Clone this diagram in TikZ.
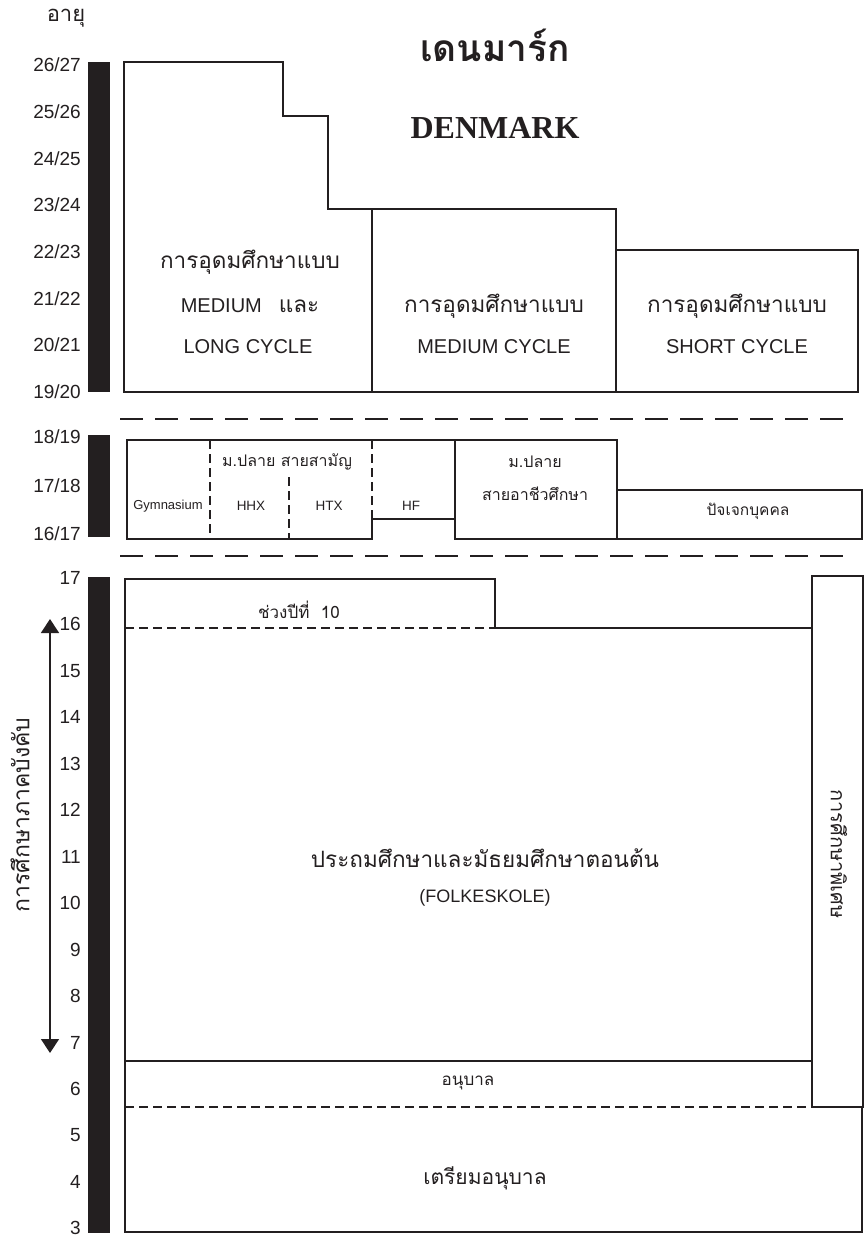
\documentclass[tikz,border=0pt]{standalone}
\usepackage{fontspec}
\setmainfont{Liberation Sans}
\newfontfamily\thai[Script=Thai]{Loma}
\newfontfamily\timesbf{Liberation Serif}
\usepackage{xcolor}
\definecolor{ink}{RGB}{35,31,32}
\usepackage{tikz}
\usetikzlibrary{arrows.meta, positioning}

\newcommand{\fs}[1]{\fontsize{#1}{#1}\selectfont}

\begin{document}
\begin{tikzpicture}[x=1pt, y=-1pt,
  box/.style={draw=ink, line width=1.6pt},
  sepline/.style={draw=ink, line width=2.2pt, dash pattern=on 23pt off 12pt},
  inner dash/.style={draw=ink, line width=1.4pt, dash pattern=on 9pt off 5pt},
  agelbl/.style={anchor=east, inner sep=0pt, font=\fs{19}, text=ink},
  thaitxt/.style={inner sep=0pt, text=ink, font=\thai\fs{#1}},
  latintxt/.style={inner sep=0pt, text=ink, font=\fs{#1}}]
  \useasboundingbox (0,0) rectangle (866,1238);

  % Header
  \node[thaitxt=22] (agehead) at (66,18) {อายุ};
  \node[inner sep=0pt, text=ink, font=\thai\bfseries\fs{37}] (titleth) at (495,45) {เดนมาร์ก};
  \node[inner sep=0pt, text=ink, font=\timesbf\bfseries\fs{32}] (titleen) at (495,128) {DENMARK};

  % Age bars
  \fill[ink] (88,62) rectangle (110,392);
  \fill[ink] (88,435) rectangle (110,537);
  \fill[ink] (88,577) rectangle (110,1233);

  % Age labels
  \foreach \a [count=\i from 0] in {26/27,25/26,24/25,23/24,22/23,21/22,20/21,19/20}
    \node[agelbl] (tert-\i) at (81,{65+46.7*\i}) {\a};
  \foreach \a [count=\i from 0] in {18/19,17/18,16/17}
    \node[agelbl] (upsec-\i) at (81,{437+48.5*\i}) {\a};
  \foreach \a [count=\i from 0] in {17,16,...,3}
    \node[agelbl] (comp-\a) at (81,{578+46.45*\i}) {\a};

  % Tertiary education
  \draw[box] (372,209) -- (328,209) -- (328,116) -- (283,116) -- (283,62) -- (124,62)
    -- (124,392) -- (858,392) -- (858,250) -- (616,250);
  \draw[box] (372,392) -- (372,209) -- (616,209) -- (616,392);
  \node[thaitxt=22.5] (longth) at (250,262) {การอุดมศึกษาแบบ};
  \node[latintxt=20] (longen) at (250,306) {MEDIUM\hspace{17pt}{\thai\fs{22.5}และ}};
  \node[latintxt=20] (longcy) at (248,347) {LONG CYCLE};
  \node[thaitxt=22.5] (medth) at (494,306) {การอุดมศึกษาแบบ};
  \node[latintxt=20] (medcy) at (494,347) {MEDIUM CYCLE};
  \node[thaitxt=22.5] (shortth) at (737,306) {การอุดมศึกษาแบบ};
  \node[latintxt=20] (shortcy) at (737,347) {SHORT CYCLE};

  % Separators
  \draw[sepline] (120,419) -- (855,419);
  \draw[sepline] (120,556) -- (855,556);

  % Upper secondary
  \draw[box] (127,440) -- (617,440) -- (617,539) -- (455,539) -- (455,519) -- (372,519)
    -- (372,539) -- (127,539) -- cycle;
  \draw[box] (455,440) -- (455,519);
  \draw[box] (617,490) -- (862,490) -- (862,539) -- (617,539);
  \draw[inner dash] (210,440) -- (210,539);
  \draw[inner dash] (289,477) -- (289,539);
  \draw[inner dash] (372,440) -- (372,519);
  \node[thaitxt=16] (genth) at (287,462) {ม.ปลาย สายสามัญ};
  \node[latintxt=13] (gym) at (168,506) {Gymnasium};
  \node[latintxt=13.5] (hhx) at (251,506) {HHX};
  \node[latintxt=13.5] (htx) at (329,506) {HTX};
  \node[latintxt=13.5] (hf) at (411,506) {HF};
  \node[thaitxt=16] (vocth) at (535,462) {ม.ปลาย};
  \node[thaitxt=16] (vocsub) at (535,494) {สายอาชีวศึกษา};
  \node[thaitxt=15.5] (indiv) at (748,511) {ปัจเจกบุคคล};

  % Compulsory education
  \draw[box] (125,1107) -- (125,579) -- (495,579) -- (495,628) -- (812,628);
  \draw[inner dash] (125,628) -- (495,628);
  \draw[box] (125,1061) -- (812,1061);
  \draw[inner dash] (125,1107) -- (812,1107);
  \draw[box] (812,576) rectangle (863,1107);
  \draw[box] (125,1107) -- (125,1232) -- (862,1232) -- (862,1107);
  \node[thaitxt=17] (yr10) at (299,610) {ช่วงปีที่~~10};
  \node[thaitxt=22.5] (folkth) at (485,858) {ประถมศึกษาและมัธยมศึกษาตอนต้น};
  \node[latintxt=18] (folken) at (485,898) {(FOLKESKOLE)};
  \node[thaitxt=17] (kinder) at (468,1083) {อนุบาล};
  \node[thaitxt=21] (prekind) at (485,1178) {เตรียมอนุบาล};
  \node[thaitxt=20, rotate=-90] (special) at (839,854) {การศึกษาพิเศษ};

  % Compulsory span arrow
  \coordinate (comptop) at (50,619);
  \coordinate (compbot) at (50,1053);
  \draw[ink, line width=1.4pt, {Triangle[width=18pt,length=14pt]}-{Triangle[width=18pt,length=14pt]}] (comptop) -- (compbot);
  \node[thaitxt=23, rotate=90] (complbl) at (20,815) {การศึกษาภาคบังคับ};
\end{tikzpicture}
\end{document}
